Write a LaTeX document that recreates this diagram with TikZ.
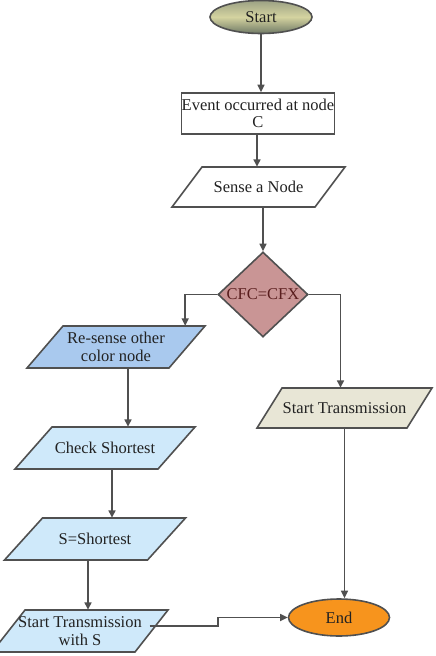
\documentclass[tikz,border=0pt]{standalone}
\usepackage{fontspec}
\setmainfont{Liberation Serif}
\usetikzlibrary{shapes.geometric,arrows.meta}
\definecolor{linec}{HTML}{505050}
\definecolor{diafill}{HTML}{C99595}
\definecolor{diatext}{HTML}{5A1E1E}
\definecolor{blued}{HTML}{A9C9EE}
\definecolor{bluel}{HTML}{CFE9FA}
\definecolor{beige}{HTML}{E8E6D6}
\definecolor{endfill}{HTML}{F7941D}
\definecolor{stop}{HTML}{9CA184}
\definecolor{smid}{HTML}{D4D3A0}
\definecolor{sbot}{HTML}{707A66}
\definecolor{txtc}{HTML}{222222}
\newcommand{\parabox}[8]{%
  \path[draw=linec,line width=1.6pt,fill=#7]
    (#2-#4/2+#6/2,#3-#5/2) -- (#2+#4/2+#6/2,#3-#5/2) --
    (#2+#4/2-#6/2,#3+#5/2) -- (#2-#4/2-#6/2,#3+#5/2) -- cycle;
  \node[txt,minimum width=#4pt,minimum height=#5pt] (#1) at (#2,#3) {#8};}
\begin{document}
\begin{tikzpicture}[x=1pt,y=-1pt,
  txt/.style={inner sep=0pt,align=center,text=txtc,font=\fontsize{16.5}{17.5}\selectfont},
  conn/.style={draw=linec,line width=1.6pt},
  arr/.style={conn,-{Triangle[length=7.5pt,width=7pt]}}]
\useasboundingbox (0,0) rectangle (436,656);
% start
\node[ellipse,draw=linec,line width=1.6pt,minimum width=102pt,minimum height=33pt,
  top color=stop,bottom color=sbot,middle color=smid,txt] (start) at (261,17) {Start};
% event
\node[draw=linec,line width=1.6pt,fill=white,minimum width=153pt,minimum height=41pt,
  txt] (event) at (258,113.5) {Event occurred at node\\C};
% sense
\parabox{sense}{258.5}{187}{143}{40}{30}{white}{Sense a Node}
% decision
\node[diamond,draw=linec,line width=1.6pt,fill=diafill,minimum width=90pt,minimum height=85pt,
  inner sep=0pt] (dec) at (263,294.5) {};
\node[txt,text=diatext] (dectxt) at (dec.center) {CFC=CFX};
% left branch
\parabox{resense}{116}{347}{142}{42}{36}{blued}{Re-sense other\\color node}
\parabox{check}{105}{448}{143}{42}{37}{bluel}{Check Shortest}
\parabox{sshort}{95}{539}{143}{42}{38}{bluel}{S=Shortest}
\parabox{sts}{80}{631}{143}{42}{33}{bluel}{Start Transmission\\with S}
% right branch
\parabox{st}{344.5}{408}{150}{40}{25}{beige}{Start Transmission}
\node[ellipse,draw=linec,line width=1.6pt,fill=endfill,minimum width=101pt,minimum height=37pt,
  txt] (end) at (339,617.5) {End};
% connectors
\draw[arr] (start.south) -- (start.south |- event.north);
\draw[arr] ([xshift=-1pt]event.south) -- ([xshift=-1pt]event.south |- sense.north);
\draw[arr] (dec.north |- sense.south) -- (dec.north);
\draw[arr] (dec.west) -| ([xshift=-2pt]resense.north east);
\draw[arr] (dec.east) -| ([xshift=-4pt]st.north);
\draw[arr] ([xshift=12pt]resense.south) -- ([xshift=12pt]resense.south |- check.north);
\draw[arr] ([xshift=7pt]check.south) -- ([xshift=7pt]check.south |- sshort.north);
\draw[arr] ([xshift=-7pt]sshort.south) -- ([xshift=-7pt]sshort.south |- sts.north);
\draw[arr] (st.south) -- (st.south |- end.north);
\draw[arr] ([xshift=-2pt,yshift=5pt]sts.east) -- ++(68,0) |- (end.west);
\end{tikzpicture}
\end{document}
